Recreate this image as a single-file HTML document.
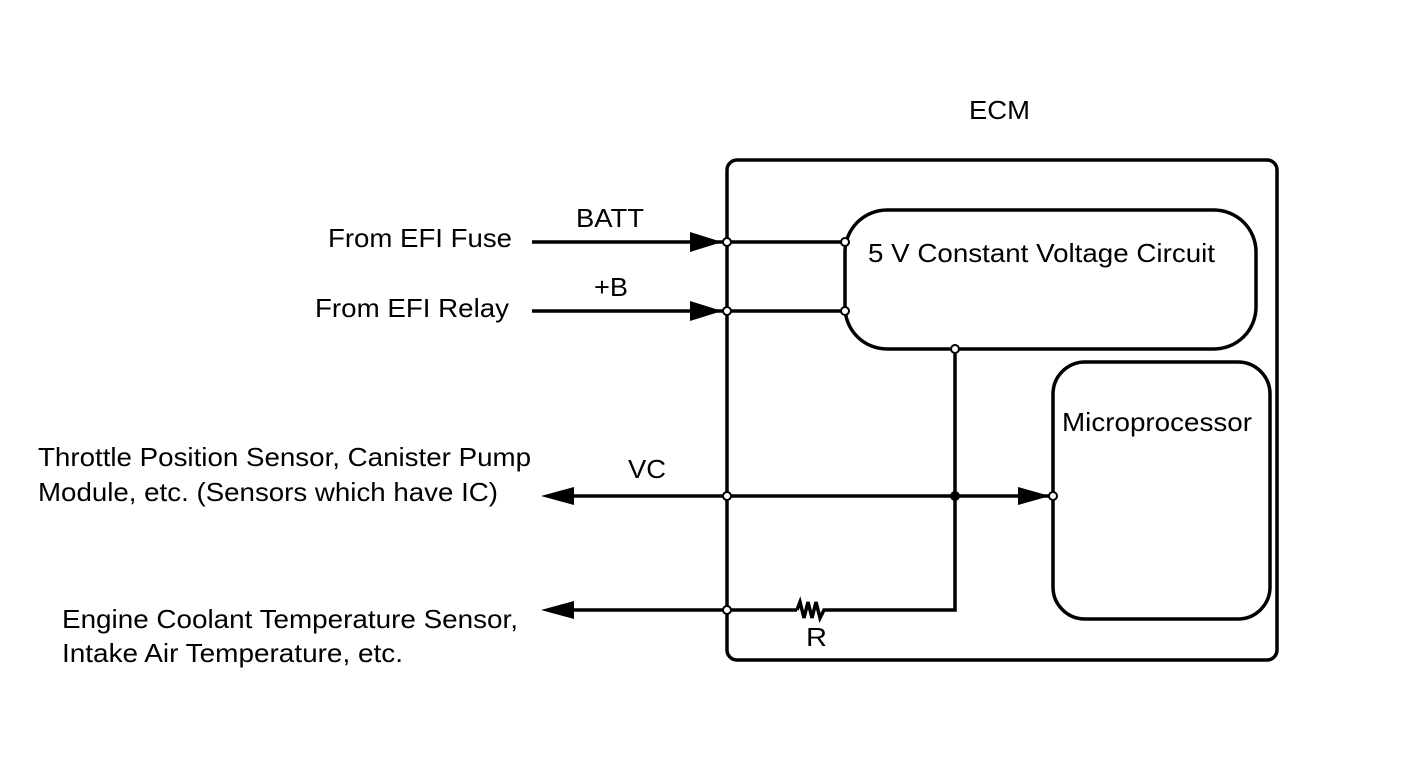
<!DOCTYPE html>
<html><head><style>body{margin:0;background:#fff}svg{display:block}text{font-family:"Liberation Sans",Arial,sans-serif;font-size:26px;fill:#000}</style></head><body>
<svg width="1424" height="759" viewBox="0 0 1424 759" xmlns="http://www.w3.org/2000/svg">
<g fill="none" stroke="#000" stroke-width="3.5">
<rect x="727" y="160" width="550" height="500" rx="10"/>
<rect x="845" y="210" width="411" height="139" rx="42"/>
<rect x="1053" y="362" width="217" height="257" rx="32"/>
<line x1="532" y1="242" x2="845" y2="242"/>
<line x1="532" y1="311" x2="845" y2="311"/>
<line x1="560" y1="496" x2="1053" y2="496"/>
<line x1="560" y1="610" x2="797" y2="610"/>
<polyline points="797,610 800,602 804,618 808,602 812,618 816,602 820,618 824,610 955,610 955,349"/>
</g>
<g fill="#000">
<polygon points="690,232 722,242 690,252"/>
<polygon points="690,301 722,311 690,321"/>
<polygon points="541,496 574,487 574,505"/>
<polygon points="541,610 574,601 574,619"/>
<polygon points="1018,487 1050,496 1018,505"/>
<circle cx="955" cy="496" r="5"/>
</g>
<g fill="#fff" stroke="#000" stroke-width="2">
<circle cx="727" cy="242" r="4"/><circle cx="727" cy="311" r="4"/>
<circle cx="727" cy="496" r="4"/><circle cx="727" cy="610" r="4"/>
<circle cx="845" cy="242" r="4"/><circle cx="845" cy="311" r="4"/>
<circle cx="955" cy="349" r="4"/><circle cx="1053" cy="496" r="4"/>
</g>
<g lengthAdjust="spacingAndGlyphs">
<text x="969" y="119" textLength="61" lengthAdjust="spacingAndGlyphs">ECM</text>
<text x="576" y="227" textLength="68" lengthAdjust="spacingAndGlyphs">BATT</text>
<text x="594" y="296" textLength="34" lengthAdjust="spacingAndGlyphs">+B</text>
<text x="328" y="247" textLength="184" lengthAdjust="spacingAndGlyphs">From EFI Fuse</text>
<text x="315" y="317" textLength="194" lengthAdjust="spacingAndGlyphs">From EFI Relay</text>
<text x="868" y="262" textLength="347" lengthAdjust="spacingAndGlyphs">5 V Constant Voltage Circuit</text>
<text x="1062" y="431" textLength="190" lengthAdjust="spacingAndGlyphs">Microprocessor</text>
<text x="628" y="478" textLength="38" lengthAdjust="spacingAndGlyphs">VC</text>
<text x="38" y="466" textLength="493" lengthAdjust="spacingAndGlyphs">Throttle Position Sensor, Canister Pump</text>
<text x="38" y="501" textLength="460" lengthAdjust="spacingAndGlyphs">Module, etc. (Sensors which have IC)</text>
<text x="62" y="628" textLength="456" lengthAdjust="spacingAndGlyphs">Engine Coolant Temperature Sensor,</text>
<text x="62" y="662" textLength="341" lengthAdjust="spacingAndGlyphs">Intake Air Temperature, etc.</text>
<text x="806" y="646" textLength="21" lengthAdjust="spacingAndGlyphs">R</text>
</g>
</svg>
</body></html>
